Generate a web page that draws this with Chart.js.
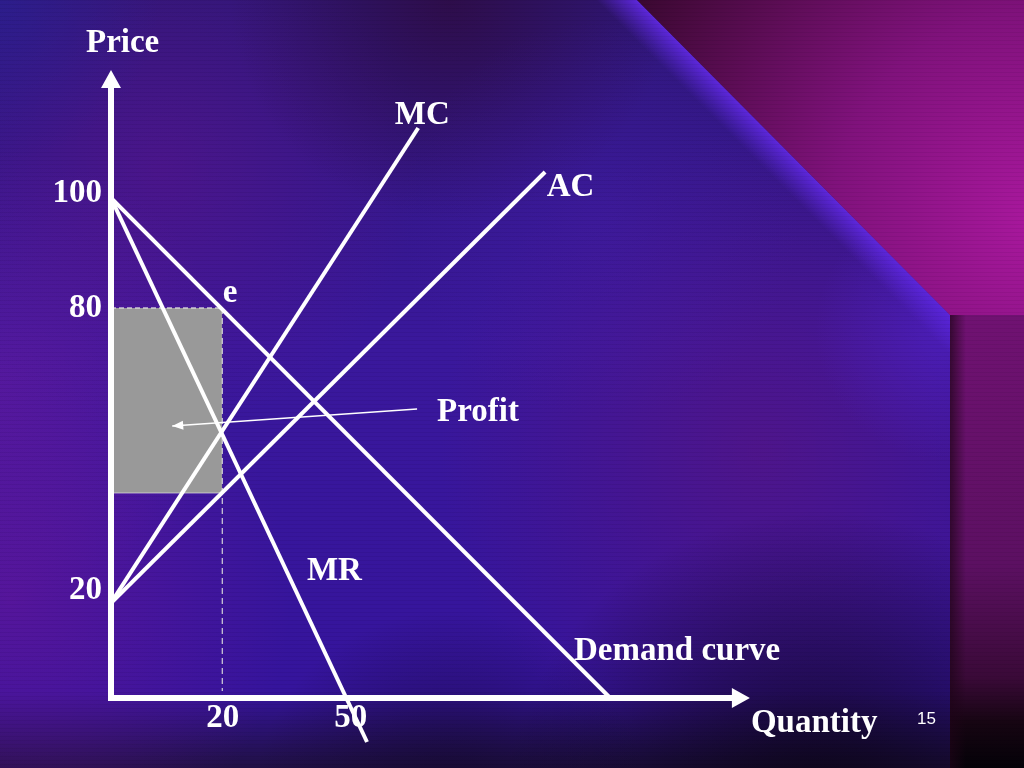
<html>
  <head>
    <script src="https://cdn.jsdelivr.net/npm/chart.js@4.4.0/dist/chart.umd.min.js"></script>
    <style>
      body { margin: 0; background: #000; }
      #output { display: block; }
    </style>
  </head>
  <body>
    <canvas id="output" width="1024" height="768"></canvas>

    <script>
      // Curve end points (x = quantity, y = price, in the sketch's own units)
      var demandX = [0, 89.7], demandY = [100, 0];
      var mrX = [0, 46], mrY = [100, -8.8];
      var mcX = [0, 55.2], mcY = [19, 114];
      var acX = [0, 78], acY = [19, 105.2];

      // Profit box: quantity 0..20, from average cost up to price
      var profitX = [0, 20], profitTop = 78, profitBottom = 41;
      var arrowX = [55, 11], arrowY = [57.8, 54.4];

      // Tick labels and where they sit on the sketch
      var yTickPos = [100.9, 77.9, 21.5], yTickText = ['100', '80', '20'];
      var xTickPos = [20.1, 43.1], xTickText = ['20', '50'];

      // Curve names
      var noteText = ['MC', 'AC', 'e', 'Profit', 'MR', 'Demand curve'];
      var noteX = [51, 78.3, 20.1, 58.6, 35.2, 83.2];
      var noteY = [114.8, 100.4, 79.2, 55.4, 23.6, 7.6];

      var yAxisEnd = 125.6, xAxisEnd = 114.8;
      var serif = 'bold 33px "Liberation Serif", "Times New Roman", serif';

      function pts(xs, ys) {
        return xs.map(function(x, i) { return { x: x, y: ys[i] }; });
      }

      function blob(ctx, x, y, r, col) {
        var g = ctx.createRadialGradient(x, y, 0, x, y, r);
        g.addColorStop(0, col);
        g.addColorStop(1, col.replace(/[\d.]+\)$/, '0)'));
        ctx.fillStyle = g;
        ctx.fillRect(0, 0, 1024, 768);
      }

      function paintBackground(ctx, w, h) {
        ctx.save();
        var g = ctx.createLinearGradient(0, 0, 0, h);
        g.addColorStop(0, '#2f1778');
        g.addColorStop(0.45, '#3a189c');
        g.addColorStop(0.9, '#35149c');
        g.addColorStop(1, '#201044');
        ctx.fillStyle = g;
        ctx.fillRect(0, 0, w, h);

        blob(ctx, 160, 170, 260, 'rgba(95,20,140,0.5)');
        blob(ctx, 0, 380, 230, 'rgba(105,26,160,0.5)');
        blob(ctx, 10, 600, 280, 'rgba(110,22,155,0.55)');
        blob(ctx, 450, 0, 220, 'rgba(45,8,50,0.65)');
        blob(ctx, 0, 0, 160, 'rgba(40,34,155,0.55)');
        blob(ctx, 760, 450, 320, 'rgba(92,20,128,0.6)');
        blob(ctx, 600, 220, 200, 'rgba(70,30,180,0.3)');
        blob(ctx, 820, 830, 320, 'rgba(8,3,16,0.9)');
        blob(ctx, 450, 810, 200, 'rgba(15,6,35,0.6)');

        // glow along the diagonal edge
        ctx.save();
        ctx.beginPath();
        ctx.moveTo(0, 0); ctx.lineTo(637, 0); ctx.lineTo(950, 315); ctx.lineTo(950, h); ctx.lineTo(0, h);
        ctx.closePath();
        ctx.clip();
        var eg = ctx.createLinearGradient(793, 157, 773, 177);
        eg.addColorStop(0, 'rgba(100,42,235,0.85)');
        eg.addColorStop(1, 'rgba(100,42,235,0)');
        ctx.fillStyle = eg;
        ctx.fillRect(0, 0, w, h);
        blob(ctx, 945, 330, 130, 'rgba(85,35,215,0.5)');
        ctx.restore();

        // magenta corner
        ctx.beginPath();
        ctx.moveTo(637, 0); ctx.lineTo(w, 0); ctx.lineTo(w, 315); ctx.lineTo(950, 315);
        ctx.closePath();
        var mg = ctx.createRadialGradient(1040, 220, 0, 1040, 220, 460);
        mg.addColorStop(0, '#aa189e');
        mg.addColorStop(0.45, '#80127c');
        mg.addColorStop(1, '#3a0830');
        ctx.fillStyle = mg;
        ctx.fill();

        // right strip
        var rg = ctx.createLinearGradient(0, 315, 0, h);
        rg.addColorStop(0, '#701272');
        rg.addColorStop(0.55, '#5c1062');
        rg.addColorStop(0.8, '#3a0a38');
        rg.addColorStop(0.9, '#160512');
        rg.addColorStop(1, '#040208');
        ctx.fillStyle = rg;
        ctx.fillRect(950, 315, w - 950, h - 315);
        var sg = ctx.createLinearGradient(950, 0, 966, 0);
        sg.addColorStop(0, 'rgba(30,4,24,0.7)');
        sg.addColorStop(1, 'rgba(30,4,24,0)');
        ctx.fillStyle = sg;
        ctx.fillRect(950, 315, 16, h - 315);

        // faint horizontal streaks
        ctx.fillStyle = 'rgba(0,0,0,0.05)';
        for (var y = 0; y < h; y += 4) ctx.fillRect(0, y, w, 1);
        ctx.restore();
      }

      var slidePlugin = {
        id: 'slide',
        beforeDraw: function(chart) {
          paintBackground(chart.ctx, chart.width, chart.height);
        },
        afterDatasetsDraw: function(chart) {
          var ctx = chart.ctx, xs = chart.scales.x, ys = chart.scales.y;
          var x0 = xs.getPixelForValue(0), y0 = ys.getPixelForValue(0);
          var yTip = ys.getPixelForValue(yAxisEnd), xTip = xs.getPixelForValue(xAxisEnd);
          ctx.save();

          // axes with arrow heads
          ctx.strokeStyle = '#fff';
          ctx.fillStyle = '#fff';
          ctx.lineWidth = 6;
          ctx.beginPath();
          ctx.moveTo(x0, y0 + 3); ctx.lineTo(x0, yTip + 16);
          ctx.moveTo(x0 - 3, y0); ctx.lineTo(xTip - 16, y0);
          ctx.stroke();
          ctx.beginPath();
          ctx.moveTo(x0, yTip); ctx.lineTo(x0 - 10, yTip + 18); ctx.lineTo(x0 + 10, yTip + 18); ctx.closePath();
          ctx.moveTo(xTip, y0); ctx.lineTo(xTip - 18, y0 - 10); ctx.lineTo(xTip - 18, y0 + 10); ctx.closePath();
          ctx.fill();

          // head of the profit pointer
          var ax = xs.getPixelForValue(arrowX[1]), ay = ys.getPixelForValue(arrowY[1]);
          var bx = xs.getPixelForValue(arrowX[0]), by = ys.getPixelForValue(arrowY[0]);
          var ang = Math.atan2(ay - by, ax - bx);
          ctx.beginPath();
          ctx.moveTo(ax, ay);
          ctx.lineTo(ax - 11 * Math.cos(ang) + 4.5 * Math.sin(ang), ay - 11 * Math.sin(ang) - 4.5 * Math.cos(ang));
          ctx.lineTo(ax - 11 * Math.cos(ang) - 4.5 * Math.sin(ang), ay - 11 * Math.sin(ang) + 4.5 * Math.cos(ang));
          ctx.closePath();
          ctx.fill();

          // tick labels
          ctx.font = serif;
          ctx.textAlign = 'right';
          ctx.textBaseline = 'middle';
          yTickPos.forEach(function(v, i) {
            ctx.fillText(yTickText[i], x0 - 9, ys.getPixelForValue(v));
          });
          ctx.textAlign = 'center';
          ctx.textBaseline = 'alphabetic';
          xTickPos.forEach(function(v, i) {
            ctx.fillText(xTickText[i], xs.getPixelForValue(v), y0 + 29);
          });

          // curve names
          ctx.textAlign = 'left';
          noteText.forEach(function(t, i) {
            ctx.fillText(t, xs.getPixelForValue(noteX[i]), ys.getPixelForValue(noteY[i]));
          });

          // axis titles
          ctx.fillText('Price', x0 - 25, yTip - 18);
          ctx.fillText('Quantity', xTip + 1, y0 + 34);

          // slide number
          ctx.font = '17px "Liberation Sans", Arial, sans-serif';
          ctx.fillText('15', 917, 724);
          ctx.restore();
        }
      };

      var line = function(data, extra) {
        var d = {
          data: data,
          borderColor: '#ffffff',
          borderWidth: 4,
          pointRadius: 0,
          fill: false,
          tension: 0,
          order: 0
        };
        for (var k in extra) d[k] = extra[k];
        return d;
      };

      var ctx = document.getElementById('output').getContext('2d');
      var myChart = new Chart(ctx, {
        type: 'line',
        data: {
          datasets: [
            line(pts(demandX, demandY)),
            line(pts(mrX, mrY)),
            line(pts(mcX, mcY)),
            line(pts(acX, acY)),
            line(pts(arrowX, arrowY), { borderWidth: 1.3 }),
            line(pts(profitX, [profitTop, profitTop]), {
              borderColor: 'rgba(225,225,225,0.85)', borderWidth: 1.3, borderDash: [5, 3],
              backgroundColor: '#999999', fill: { value: profitBottom }, order: 10
            }),
            line(pts(profitX, [profitBottom, profitBottom]), {
              borderColor: 'rgba(225,225,225,0.7)', borderWidth: 1.2, order: 9
            }),
            line(pts([profitX[1], profitX[1]], [profitTop, 1.4]), {
              borderColor: 'rgba(225,225,225,0.85)', borderWidth: 1.3, borderDash: [6, 4], order: 8
            })
          ]
        },
        options: {
          responsive: false,
          animation: false,
          devicePixelRatio: 1,
          layout: { padding: { left: 111, right: 273, top: 68, bottom: 0 } },
          plugins: { legend: { display: false }, tooltip: { enabled: false } },
          scales: {
            x: { type: 'linear', min: 0, max: 115, display: false },
            y: { type: 'linear', min: -14, max: 126, display: false }
          }
        },
        plugins: [slidePlugin]
      });
    </script>
  </body>
</html>
